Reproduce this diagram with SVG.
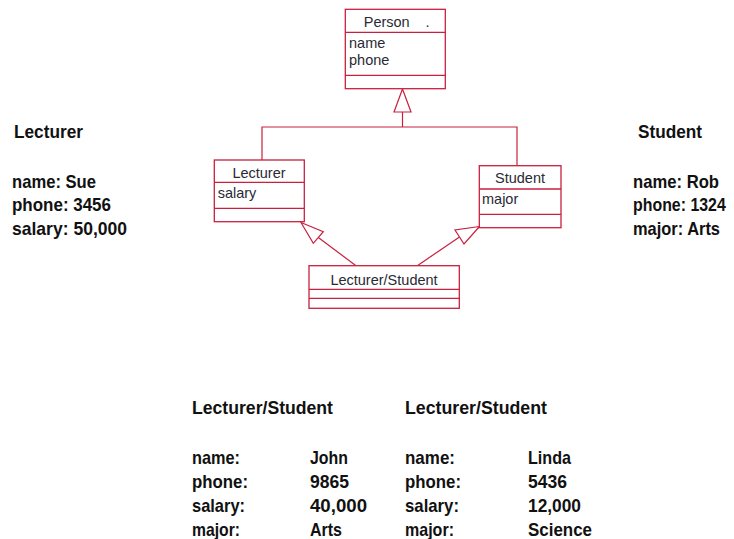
<svg xmlns="http://www.w3.org/2000/svg" width="734" height="539" viewBox="0 0 734 539">
<style>
.box{fill:#fff;stroke:#c8203e;stroke-width:1.3}
.div{stroke:#c8203e;stroke-width:1.3}
.con{fill:none;stroke:#c8203e;stroke-width:1.2}
.tri{fill:#fff;stroke:#c8203e;stroke-width:1.2}
.bt{font-family:"Liberation Sans",Arial,sans-serif;font-size:14.5px;fill:#2a2a35}
.big{font-family:"Liberation Sans",Arial,sans-serif;font-size:18.5px;font-weight:bold;fill:#111}
</style>
<rect width="734" height="539" fill="#fff"/>
<g id="connectors">
<path class="con" d="M262,160 V127 H517 V165.7 M402.5,127 V112"/>
<polygon class="tri" points="402.5,89 394,112 411,112"/>
<path class="con" d="M356,265.7 L318.3,237.5"/>
<polygon class="tri" points="301,222.5 323.3,231.7 313.3,243.3"/>
<path class="con" d="M417.3,265.7 L459.5,237"/>
<polygon class="tri" points="479.5,226.5 455,230 464,244"/>
</g>
<g id="person">
<rect class="box" x="345.3" y="9.3" width="100" height="79.4"/>
<line class="div" x1="345.3" y1="32.3" x2="445.3" y2="32.3"/>
<line class="div" x1="345.3" y1="75.3" x2="445.3" y2="75.3"/>
<text class="bt" x="386.7" y="26.5" text-anchor="middle">Person</text>
<text class="bt" x="425.5" y="26.5">.</text>
<text class="bt" x="349" y="47.5">name</text>
<text class="bt" x="349" y="64.5">phone</text>
</g>
<g id="lecturer">
<rect class="box" x="214.3" y="160" width="90" height="61.7"/>
<line class="div" x1="214.3" y1="182.3" x2="304.3" y2="182.3"/>
<line class="div" x1="214.3" y1="208.3" x2="304.3" y2="208.3"/>
<text class="bt" x="259" y="177.5" text-anchor="middle">Lecturer</text>
<text class="bt" x="217.7" y="198">salary</text>
</g>
<g id="student">
<rect class="box" x="479.3" y="165.7" width="81.7" height="62"/>
<line class="div" x1="479.3" y1="189" x2="561" y2="189"/>
<line class="div" x1="479.3" y1="214.3" x2="561" y2="214.3"/>
<text class="bt" x="520" y="183" text-anchor="middle">Student</text>
<text class="bt" x="482" y="203.5">major</text>
</g>
<g id="lecturer-student">
<rect class="box" x="309" y="265.7" width="150.3" height="42.6"/>
<line class="div" x1="309" y1="289.3" x2="459.3" y2="289.3"/>
<line class="div" x1="309" y1="298.3" x2="459.3" y2="298.3"/>
<text class="bt" x="384" y="284.5" text-anchor="middle">Lecturer/Student</text>
</g>
<g id="obj-lecturer">
<text class="big" x="14" y="138" textLength="69" lengthAdjust="spacingAndGlyphs">Lecturer</text>
<text class="big" x="12" y="188" textLength="84" lengthAdjust="spacingAndGlyphs">name: Sue</text>
<text class="big" x="12" y="211" textLength="99" lengthAdjust="spacingAndGlyphs">phone: 3456</text>
<text class="big" x="12" y="235" textLength="115" lengthAdjust="spacingAndGlyphs">salary: 50,000</text>
</g>
<g id="obj-student">
<text class="big" x="638" y="138" textLength="64" lengthAdjust="spacingAndGlyphs">Student</text>
<text class="big" x="633" y="188" textLength="86" lengthAdjust="spacingAndGlyphs">name: Rob</text>
<text class="big" transform="translate(633,211) scale(0.86,1)">phone: 1324</text>
<text class="big" x="633" y="235" textLength="87" lengthAdjust="spacingAndGlyphs">major: Arts</text>
</g>
<g id="obj-john">
<text class="big" x="192" y="413.5" textLength="141" lengthAdjust="spacingAndGlyphs">Lecturer/Student</text>
<text class="big" x="192" y="464" textLength="48" lengthAdjust="spacingAndGlyphs">name:</text>
<text class="big" x="192" y="488" textLength="56" lengthAdjust="spacingAndGlyphs">phone:</text>
<text class="big" x="192" y="512" textLength="53" lengthAdjust="spacingAndGlyphs">salary:</text>
<text class="big" x="192" y="536" textLength="48" lengthAdjust="spacingAndGlyphs">major:</text>
<text class="big" x="310" y="464" textLength="38" lengthAdjust="spacingAndGlyphs">John</text>
<text class="big" x="310" y="488" textLength="39" lengthAdjust="spacingAndGlyphs">9865</text>
<text class="big" x="310" y="512" textLength="57" lengthAdjust="spacingAndGlyphs">40,000</text>
<text class="big" x="310" y="536" textLength="32" lengthAdjust="spacingAndGlyphs">Arts</text>
</g>
<g id="obj-linda">
<text class="big" x="405" y="413.5" textLength="142" lengthAdjust="spacingAndGlyphs">Lecturer/Student</text>
<text class="big" x="405" y="464" textLength="50" lengthAdjust="spacingAndGlyphs">name:</text>
<text class="big" x="405" y="488" textLength="56" lengthAdjust="spacingAndGlyphs">phone:</text>
<text class="big" x="405" y="512" textLength="54" lengthAdjust="spacingAndGlyphs">salary:</text>
<text class="big" x="405" y="536" textLength="49" lengthAdjust="spacingAndGlyphs">major:</text>
<text class="big" x="528" y="464" textLength="43" lengthAdjust="spacingAndGlyphs">Linda</text>
<text class="big" x="528" y="488" textLength="39" lengthAdjust="spacingAndGlyphs">5436</text>
<text class="big" x="528" y="512" textLength="53" lengthAdjust="spacingAndGlyphs">12,000</text>
<text class="big" x="528" y="536" textLength="64" lengthAdjust="spacingAndGlyphs">Science</text>
</g>
</svg>
